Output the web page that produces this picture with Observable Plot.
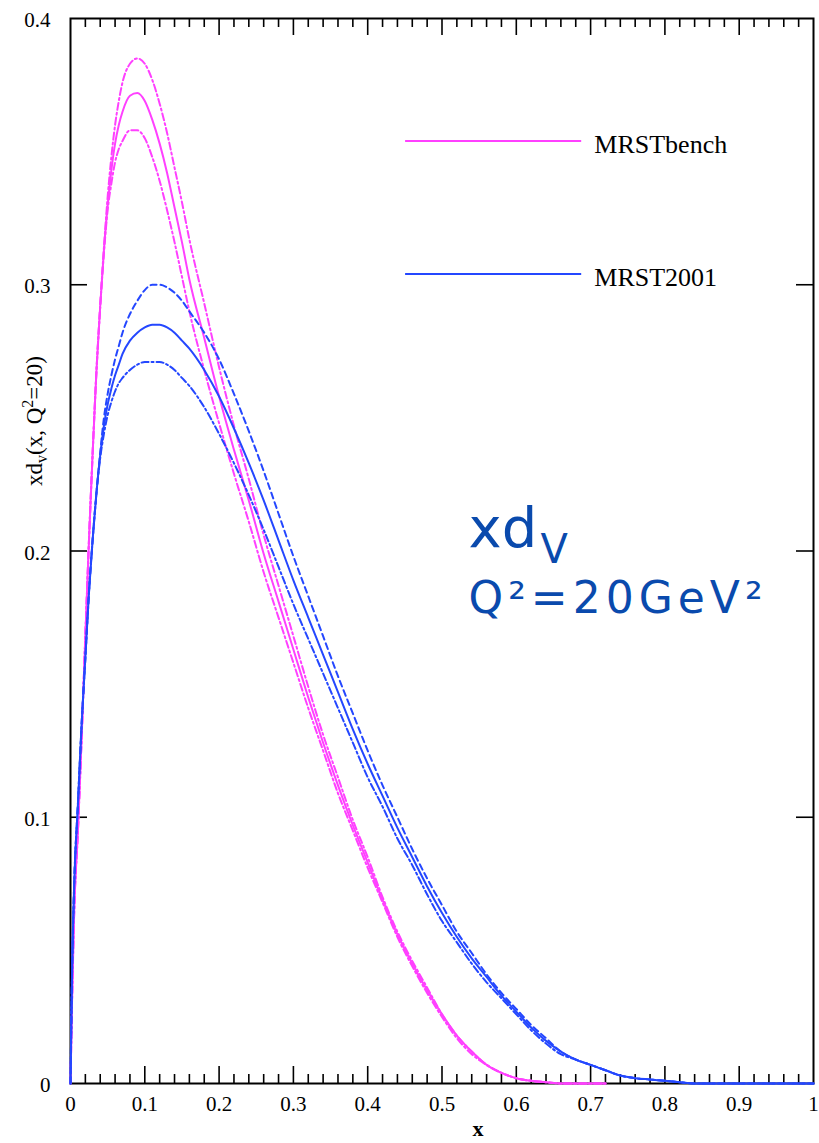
<!DOCTYPE html>
<html><head><meta charset="utf-8">
<script src="https://cdn.jsdelivr.net/npm/d3@7"></script>
<script src="https://cdn.jsdelivr.net/npm/@observablehq/plot@0.6"></script>
<style>html,body{margin:0;padding:0;background:#fff;} #chart{width:819px;height:1143px;overflow:hidden;}</style>
</head><body><div id="chart"></div>
<script>
// ---- data ----
const xGrid = [0,0.002,0.005,0.01,0.015,0.02,0.025,0.03,0.035,0.04,0.045,0.05,0.055,0.06,0.065,0.07,0.08,0.09,0.1,0.11,0.12,0.13,0.14,0.15,0.16,
  0.18,0.2,0.22,0.24,0.26,0.28,0.3,0.32,0.34,0.36,0.38,0.4,0.42,0.44,0.46,0.48,0.5,0.52,0.54,0.56,0.58,0.6,0.62,0.64,0.66,0.68,0.7,0.72,0.74,0.76,0.78,0.8,0.82,0.84,0.86,
  0.9,0.95,1.0];
const benchCentral = [0,0.03,0.065,0.095,0.13,0.168,0.205,0.238,0.268,0.292,0.313,0.330,0.343,0.353,0.360,0.365,0.371,0.372,0.369,0.362,0.353,0.342,0.329,0.316,0.302,
  0.280,0.258,0.238,0.219,0.199,0.181,0.163,0.145,0.128,0.112,0.097,0.083,0.069,0.056,0.045,0.035,0.026,0.018,0.012,0.007,0.004,0.002,0.001,0.0005,0,0,0,0,null,null,null,null,null,null,null,
  null,null,null];
const benchUpper = [0,0.03,0.065,0.095,0.13,0.168,0.205,0.238,0.268,0.292,0.314,0.333,0.348,0.360,0.369,0.376,0.383,0.385,0.383,0.377,0.368,0.357,0.344,0.331,0.317,
  0.293,0.269,0.247,0.227,0.206,0.187,0.168,0.149,0.131,0.115,0.099,0.085,0.070,0.057,0.046,0.036,0.026,0.018,0.012,0.007,0.004,0.002,0.001,0.0005,0,0,0,0,null,null,null,null,null,null,null,
  null,null,null];
const benchLower = [0,0.03,0.065,0.095,0.13,0.168,0.205,0.238,0.268,0.292,0.312,0.328,0.338,0.346,0.351,0.354,0.358,0.358,0.355,0.348,0.339,0.328,0.316,0.303,0.290,
  0.268,0.248,0.229,0.211,0.192,0.175,0.158,0.141,0.125,0.109,0.095,0.081,0.068,0.055,0.044,0.034,0.025,0.017,0.011,0.007,0.004,0.002,0.001,0.0005,0,0,0,0,null,null,null,null,null,null,null,
  null,null,null];
const mrstCentral = [0,0.04,0.075,0.105,0.135,0.16,0.185,0.205,0.222,0.236,0.247,0.255,0.261,0.266,0.270,0.274,0.279,0.282,0.284,0.285,0.285,0.284,0.282,0.279,0.276,
  0.268,0.258,0.246,0.233,0.219,0.204,0.189,0.175,0.161,0.147,0.133,0.120,0.108,0.096,0.085,0.074,0.064,0.055,0.047,0.040,0.033,0.027,0.021,0.016,0.012,0.009,0.007,0.005,0.003,0.002,0.0015,0.001,0.0005,0,0,
  0,0,0];
const mrstUpper = [0,0.04,0.075,0.105,0.135,0.16,0.185,0.205,0.222,0.237,0.250,0.259,0.266,0.272,0.277,0.282,0.289,0.294,0.298,0.300,0.300,0.299,0.297,0.294,0.290,
  0.282,0.272,0.259,0.245,0.230,0.214,0.198,0.183,0.168,0.153,0.139,0.125,0.112,0.100,0.088,0.077,0.067,0.057,0.049,0.041,0.034,0.028,0.022,0.017,0.012,0.009,0.007,0.005,0.003,0.002,0.0015,0.001,0.0005,0,0,
  0,0,0];
const mrstLower = [0,0.04,0.075,0.105,0.135,0.16,0.185,0.205,0.222,0.235,0.244,0.251,0.256,0.260,0.263,0.265,0.268,0.270,0.271,0.271,0.271,0.270,0.268,0.265,0.262,
  0.254,0.244,0.233,0.221,0.208,0.194,0.180,0.167,0.154,0.141,0.128,0.115,0.104,0.092,0.082,0.071,0.061,0.053,0.045,0.038,0.032,0.026,0.020,0.015,0.011,0.009,0.007,0.005,0.003,0.002,0.0015,0.001,0.0005,0,0,
  0,0,0];
const seriesNames = ["MRSTbench", "MRST2001"];
const xTickLabels = [0,0.1,0.2,0.3,0.4,0.5,0.6,0.7,0.8,0.9,1];
const yTickLabels = [0,0.1,0.2,0.3,0.4];
const xMinorTicks = d3.range(1,50).map(i => i/50).filter(v => Math.abs(v*10 - Math.round(v*10)) > 1e-6);
const xMajorTicks = [0.1,0.2,0.3,0.4,0.5,0.6,0.7,0.8,0.9];
const yMajorTicks = [0.1,0.2,0.3];

// ---- layout ----
const W = 819, H = 1143;
const mL = 70, mR = 6, mT = 18, mB = 60;
const pW = W - mL - mR, pH = H - mT - mB;
const pink = "#ff40ff", blue = "#2447ff", annot = "#0a4aad";

const toRows = ys => xGrid.map((x, i) => ({x, y: ys[i]}));
const fmt = d => d === 0 ? "0" : d === 1 ? "1" : d.toFixed(1);

const svg = Plot.plot({
  width: W, height: H,
  marginLeft: mL, marginRight: mR, marginTop: mT, marginBottom: mB,
  x: {domain: [0, 1]},
  y: {domain: [0, 0.4]},
  style: {fontFamily: "'Liberation Serif', serif", fontSize: "22px", color: "#000", background: "#fff"},
  marks: [
    // inward ticks
    Plot.tickX(xMinorTicks, {x: d => d, insetTop: pH - 9, stroke: "#000", strokeWidth: 1.6}),
    Plot.tickX(xMajorTicks, {x: d => d, insetTop: pH - 17, stroke: "#000", strokeWidth: 1.6}),
    Plot.tickX(xMinorTicks, {x: d => d, insetBottom: pH - 9, stroke: "#000", strokeWidth: 1.6}),
    Plot.tickX(xMajorTicks, {x: d => d, insetBottom: pH - 17, stroke: "#000", strokeWidth: 1.6}),
    Plot.tickY(yMajorTicks, {y: d => d, insetRight: pW - 17, stroke: "#000", strokeWidth: 1.6}),
    Plot.tickY(yMajorTicks, {y: d => d, insetLeft: pW - 17, stroke: "#000", strokeWidth: 1.6}),
    Plot.axisX({ticks: xTickLabels, tickSize: 0, tickPadding: 13, tickFormat: fmt, fontSize: 21, label: null}),
    Plot.axisY({ticks: yTickLabels, tickSize: 0, tickPadding: 20, tickFormat: fmt, fontSize: 21, label: null, dy: 2}),
    Plot.frame({stroke: "#000", strokeWidth: 2}),
    // axis titles
    Plot.text(["x"], {frameAnchor: "bottom", dx: 36, dy: 52, fontSize: 22, fontWeight: "bold"}),
    Plot.text(["xdv(x, Q2=20)"], {frameAnchor: "left", textAnchor: "middle", rotate: -90, dx: -29, dy: -130, lineAnchor: "bottom", fontSize: 23}),
    // curves
    Plot.line(toRows(benchUpper), {x: "x", y: "y", stroke: pink, strokeWidth: 2, strokeDasharray: "7,3,2,3", curve: "monotone-x"}),
    Plot.line(toRows(benchLower), {x: "x", y: "y", stroke: pink, strokeWidth: 2, strokeDasharray: "7,3,2,3", curve: "monotone-x"}),
    Plot.line(toRows(benchCentral), {x: "x", y: "y", stroke: pink, strokeWidth: 2, curve: "monotone-x"}),
    Plot.line(toRows(mrstUpper), {x: "x", y: "y", stroke: blue, strokeWidth: 2, strokeDasharray: "6,4", curve: "monotone-x"}),
    Plot.line(toRows(mrstLower), {x: "x", y: "y", stroke: blue, strokeWidth: 2, strokeDasharray: "7,3,2,3", curve: "monotone-x"}),
    Plot.line(toRows(mrstCentral), {x: "x", y: "y", stroke: blue, strokeWidth: 2, curve: "monotone-x"}),
    // legend
    Plot.ruleY([0], {x1: 0.451, x2: 0.688, y: () => 0.354, stroke: pink, strokeWidth: 2}),
    Plot.ruleY([0], {x1: 0.451, x2: 0.688, y: () => 0.304, stroke: blue, strokeWidth: 2}),
    Plot.text([seriesNames[0]], {x: () => 0.705, y: () => 0.3495, lineAnchor: "bottom", textAnchor: "start", fontSize: 26}),
    Plot.text([seriesNames[1]], {x: () => 0.705, y: () => 0.2994, lineAnchor: "bottom", textAnchor: "start", fontSize: 26}),
    // annotation
    Plot.text(["xd"], {frameAnchor: "top-left", dx: 398, dy: 528, lineAnchor: "bottom", textAnchor: "start", fontSize: 56, fill: annot, fontFamily: "'DejaVu Sans', sans-serif"}),
    Plot.text(["V"], {frameAnchor: "top-left", dx: 470, dy: 544, lineAnchor: "bottom", textAnchor: "start", fontSize: 40, fill: annot, fontFamily: "'DejaVu Sans', sans-serif"}),
    Plot.text(["Q²=20GeV²"], {frameAnchor: "top-left", dx: 398, dy: 594, lineAnchor: "bottom", textAnchor: "start", fontSize: 44, fill: annot, fontFamily: "'DejaVu Sans', sans-serif"})
  ]
});

// sub/superscripts in the y-axis title
d3.select(svg).selectAll("text").filter(function() { return this.textContent === "xdv(x, Q2=20)"; }).each(function() {
  const t = d3.select(this);
  t.text(null);
  t.append("tspan").text("xd");
  t.append("tspan").attr("dy", 5).attr("font-size", 16).text("v");
  t.append("tspan").attr("dy", -5).text("(x, Q");
  t.append("tspan").attr("dy", -9).attr("font-size", 16).text("2");
  t.append("tspan").attr("dy", 9).text("=20)");
});
// wider spacing of the annotation's second line, as in the reference
d3.select(svg).selectAll("text").filter(function() { return this.textContent === "Q²=20GeV²"; })
  .attr("letter-spacing", 5);

document.getElementById("chart").appendChild(svg);
</script>
</body></html>
